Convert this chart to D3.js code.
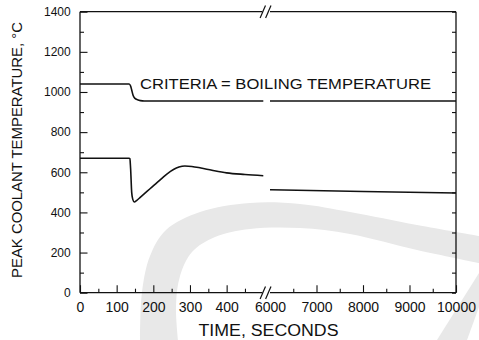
<!DOCTYPE html>
<html>
<head>
<meta charset="utf-8">
<script src="https://cdn.jsdelivr.net/npm/d3@7"></script>
<style>
  html, body { margin: 0; padding: 0; background: #fff; }
  svg { display: block; font-family: "Liberation Sans", Arial, Helvetica, sans-serif; }
</style>
</head>
<body>
<svg id="chart" width="479" height="340"></svg>
<script>
// ---- data -------------------------------------------------------------
// short-term transient (0-500 s)
const earlyTime  = [0, 134, 136, 138, 141, 144, 148, 155, 165, 175, 191, 210, 236, 255, 270, 286, 305, 330, 360, 400, 450, 500];
const peakEarly  = [670, 670, 668, 620, 500, 465, 452, 460, 476, 492, 518, 548, 590, 614, 626, 631, 629, 621, 610, 597, 589, 583];
const boilTime   = [0, 134, 138, 141, 145, 150, 157, 165, 175, 190, 500];
const boilEarly  = [1040, 1040, 1030, 1010, 982, 968, 961, 957, 955, 955, 955];
// long-term (6000-10000 s)
const lateTime   = [6000, 8000, 10000];
const peakLate   = [513, 504, 497];
const boilLate   = [955, 955, 955];

// axis ticks
const yMajor       = [0, 200, 400, 600, 800, 1000, 1200, 1400];
const yMinor       = [100, 300, 500, 700, 900, 1100, 1300];
const yAll         = d3.range(0, 1401, 100);
const xEarlyMajor  = [0, 100, 200, 300, 400];
const xEarlyMinor  = [50, 150, 250, 350, 450];
const xLateMajor   = [6000, 7000, 8000, 9000, 10000];
const xLateMinor   = [6500, 7500, 8500, 9500];

const yTitle = "PEAK COOLANT TEMPERATURE, °C";
const xTitle = "TIME, SECONDS";
const note   = "CRITERIA = BOILING TEMPERATURE";

// ---- layout -----------------------------------------------------------
const svg = d3.select("#chart");
const plotLeft = 80, plotRight = 456, plotTop = 11.7, plotBottom = 292.7;
const breakL = 263.3, breakR = 270;

const y  = d3.scaleLinear().domain([0, 1400]).range([plotBottom, plotTop]);
const xE = d3.scaleLinear().domain([0, 500]).range([plotLeft, breakL]);
const xL = d3.scaleLinear().domain([6000, 10000]).range([breakR, plotRight]);

// ---- background swoosh (light grey decoration) ---------------------------
const swooshOuter = [[140,340],[142,292],[150,256],[166,230],[200,212],[250,203],[300,204],[350,212],[417,225],[479,236]];
const swooshInner = [[479,263],[417,250],[350,234],[300,228],[250,229],[215,237],[192,252],[180,276],[176,305],[178,340]];
const swooshTail  = [[437,340],[479,273],[479,307],[467,340]];
const bg = svg.append("g").attr("fill", "#e8e8e8").attr("stroke", "none");
bg.append("path").attr("d",
  d3.line().curve(d3.curveCatmullRom)(swooshOuter) + "L" +
  d3.line().curve(d3.curveCatmullRom)(swooshInner).slice(1) + "Z");
bg.append("path").attr("d", d3.line()(swooshTail) + "Z");

// ---- axes ---------------------------------------------------------------
const ink = "#111";

function styleAxis(g, size) {
  g.select(".domain").remove();
  g.selectAll(".tick line").attr("stroke", ink).attr("stroke-width", 1.1);
  g.selectAll("text").attr("fill", ink).attr("stroke", "none").style("font-size", size + "px")
    .style("font-family", '"Liberation Sans", Arial, sans-serif');
}

// left Y axis
svg.append("g").attr("transform", `translate(${plotLeft},0)`)
  .call(d3.axisLeft(y).tickValues(yMinor).tickSize(-4).tickFormat(""))
  .call(g => styleAxis(g, 12));
svg.append("g").attr("transform", `translate(${plotLeft},0)`)
  .call(d3.axisLeft(y).tickValues(yMajor).tickSize(-7.5).tickPadding(9.3).tickFormat(d3.format("d")))
  .call(g => styleAxis(g, 12));
// right Y axis (ticks only)
svg.append("g").attr("transform", `translate(${plotRight},0)`)
  .call(d3.axisRight(y).tickValues(yAll).tickSize(-4).tickFormat(""))
  .call(g => styleAxis(g, 12));

// bottom X axis, early segment
svg.append("g").attr("transform", `translate(0,${plotBottom})`)
  .call(d3.axisBottom(xE).tickValues(xEarlyMinor).tickSize(-4).tickFormat(""))
  .call(g => styleAxis(g, 14));
svg.append("g").attr("transform", `translate(0,${plotBottom})`)
  .call(d3.axisBottom(xE).tickValues(xEarlyMajor).tickSize(-7.5).tickPadding(9).tickFormat(d3.format("d")))
  .call(g => styleAxis(g, 14));
// bottom X axis, late segment
svg.append("g").attr("transform", `translate(0,${plotBottom})`)
  .call(d3.axisBottom(xL).tickValues(xLateMinor).tickSize(-4).tickFormat(""))
  .call(g => styleAxis(g, 14));
svg.append("g").attr("transform", `translate(0,${plotBottom})`)
  .call(d3.axisBottom(xL).tickValues(xLateMajor).tickSize(-7.5).tickPadding(9).tickFormat(d3.format("d")))
  .call(g => styleAxis(g, 14))
  .call(g => g.selectAll(".tick line").filter(d => d === 6000).remove());

// frame with broken top and bottom edges
const frame = svg.append("g").attr("stroke", ink).attr("stroke-width", 1.3).attr("fill", "none");
frame.append("line").attr("x1", plotLeft).attr("x2", plotLeft).attr("y1", plotTop).attr("y2", plotBottom);
frame.append("line").attr("x1", plotRight).attr("x2", plotRight).attr("y1", plotTop).attr("y2", plotBottom);
[plotTop, plotBottom].forEach(yy => {
  frame.append("line").attr("x1", plotLeft).attr("x2", breakL - 1).attr("y1", yy).attr("y2", yy);
  frame.append("line").attr("x1", breakR).attr("x2", plotRight).attr("y1", yy).attr("y2", yy);
  [breakL - 0.5, breakL + 5].forEach(cx => {
    frame.append("line")
      .attr("x1", cx - 2.7).attr("y1", yy + 6.3)
      .attr("x2", cx + 2.7).attr("y2", yy - 6.3)
      .attr("stroke-width", 1.2);
  });
});

// ---- data lines ---------------------------------------------------------
const lines = svg.append("g").attr("stroke", ink).attr("stroke-width", 1.6).attr("fill", "none")
  .attr("stroke-linejoin", "round");
const lineE = d3.line().x(d => xE(d[0])).y(d => y(d[1])).curve(d3.curveMonotoneX);
const lineL = d3.line().x(d => xL(d[0])).y(d => y(d[1])).curve(d3.curveMonotoneX);

lines.append("path").attr("d", lineE(d3.zip(boilTime, boilEarly)));
lines.append("path").attr("d", lineE(d3.zip(earlyTime, peakEarly)));
lines.append("path").attr("d", lineL(d3.zip(lateTime, boilLate)));
lines.append("path").attr("d", lineL(d3.zip(lateTime, peakLate)));

// ---- texts --------------------------------------------------------------
svg.append("text")
  .attr("x", 140).attr("y", 89.3)
  .attr("textLength", 291).attr("lengthAdjust", "spacingAndGlyphs")
  .attr("fill", ink).style("font-size", "14.5px")
  .text(note);

svg.append("text")
  .attr("x", 268.5).attr("y", 336)
  .attr("text-anchor", "middle")
  .attr("textLength", 140).attr("lengthAdjust", "spacingAndGlyphs")
  .attr("fill", ink).style("font-size", "16px")
  .text(xTitle);

svg.append("text")
  .attr("transform", "translate(21.7,150) rotate(-90)")
  .attr("text-anchor", "middle")
  .attr("textLength", 256).attr("lengthAdjust", "spacingAndGlyphs")
  .attr("fill", ink).style("font-size", "14px")
  .text(yTitle);
</script>
</body>
</html>
